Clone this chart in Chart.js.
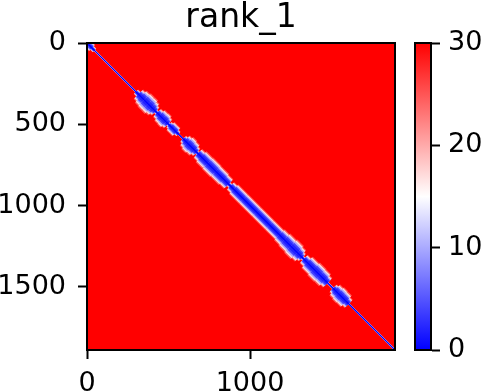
<!DOCTYPE html>
<html>
<head>
<meta charset="utf-8">
<script src="https://cdn.jsdelivr.net/npm/chart.js@4/dist/chart.umd.min.js"></script>
<style>
  html, body { margin: 0; padding: 0; background: #fff; }
  #wrap { position: relative; width: 490px; height: 392px; }
  #heat { position: absolute; left: 0; top: 0; }
  #bar { position: absolute; left: 400px; top: 0; }
</style>
</head>
<body>
<div id="wrap">
  <canvas id="heat" width="400" height="392"></canvas>
  <canvas id="bar" width="90" height="392"></canvas>
</div>
<script>
// distance matrix size (residues)
const matrixSize = 1890;
const colorMin = 0;
const colorMax = 30;
const titleText = 'rank_1';

// positions along the diagonal where the band width changes
const diagPos = [0, 15, 30, 45, 300, 315, 330, 350, 375, 395,
  410, 420, 430, 445, 465, 485, 497, 503, 512, 530,
  548, 560, 590, 600, 615, 640, 660, 672, 680, 700,
  740, 790, 840, 868, 880, 900, 960, 1040, 1120, 1180,
  1210, 1250, 1290, 1310, 1320, 1330, 1350, 1390, 1430, 1460,
  1476, 1510, 1520, 1540, 1565, 1590, 1605, 1890];
// half width (residues) of the low-distance band after each position
const bandHalfWidth = [22, 20, 12, 4, 14, 30, 38, 42, 42, 36,
  26, 10, 26, 34, 36, 28, 10, 18, 26, 26,
  14, 4, 20, 32, 38, 34, 24, 10, 28, 34,
  36, 34, 30, 12, 24, 30, 30, 30, 30, 34,
  38, 42, 36, 24, 10, 26, 36, 40, 38, 30,
  5, 24, 34, 38, 36, 26, 4];

const xTickValues = [0, 1000];
const yTickValues = [0, 500, 1000, 1500];
const colorTicks = [0, 10, 20, 30];

const FONT = 'DejaVu Sans';

// bwr colormap
function bwr(v) {
  const t = Math.max(0, Math.min(1, (v - colorMin) / (colorMax - colorMin)));
  let r, g, b;
  if (t < 0.5) { r = g = Math.round(510 * t); b = 255; }
  else { r = 255; g = b = Math.round(255 - 510 * (t - 0.5)); }
  return `rgb(${r},${g},${b})`;
}

const diagPoints = diagPos.map(p => ({ x: p, y: p }));

// band layers: [width factor, distance value shown]
const layers = [
  [1.95, 25],
  [1.65, 17],
  [1.35, 10],
  [1.0, 4],
  [0.6, 2]
];

function bandDataset(factor, value, order) {
  return {
    data: diagPoints,
    borderColor: bwr(value),
    pointRadius: 0,
    tension: 0,
    borderCapStyle: 'butt',
    order: order,
    segment: {
      borderWidth: ctx => {
        const i = ctx.p0DataIndex;
        const pxPerRes = (ctx.p1.x - ctx.p0.x) / (diagPos[i + 1] - diagPos[i]);
        return Math.max(0.5, Math.SQRT2 * bandHalfWidth[i] * pxPerRes * factor);
      }
    }
  };
}

const datasets = layers.map((l, k) => bandDataset(l[0], l[1], 10 - k));
datasets.push({
  data: diagPoints,
  borderColor: bwr(0),
  borderWidth: 1.2,
  pointRadius: 0,
  tension: 0,
  order: 0
});

const frame = {
  id: 'frame',
  beforeDatasetsDraw(chart) {
    const { ctx, scales } = chart;
    const sx = scales.x, sy = scales.y;
    const x0 = sx.getPixelForValue(-0.5), x1 = sx.getPixelForValue(matrixSize - 0.5);
    const y0 = sy.getPixelForValue(-0.5), y1 = sy.getPixelForValue(matrixSize - 0.5);
    ctx.save();
    ctx.fillStyle = bwr(colorMax);
    ctx.fillRect(x0, y0, x1 - x0, y1 - y0);
    ctx.restore();
  },
  afterDatasetsDraw(chart) {
    const { ctx, chartArea: a } = chart;
    ctx.save();
    ctx.strokeStyle = '#000';
    ctx.lineWidth = 2;
    ctx.strokeRect(a.left, a.top, a.right - a.left, a.bottom - a.top);
    ctx.fillStyle = '#000';
    ctx.font = `33px "${FONT}"`;
    ctx.textAlign = 'center';
    ctx.textBaseline = 'alphabetic';
    ctx.fillText(titleText, (a.left + a.right) / 2, a.top - 16);
    ctx.restore();
  }
};

function axisStyle(pad) {
  return {
    grid: { drawOnChartArea: false, drawTicks: true, tickLength: 9, tickWidth: 2, tickColor: '#000' },
    border: { display: true, color: '#000', width: 2 },
    ticks: {
      color: '#000', font: { family: FONT, size: 27 }, padding: pad,
      autoSkip: false, maxRotation: 0, callback: v => String(v)
    }
  };
}

new Chart(document.getElementById('heat'), {
  type: 'line',
  data: { datasets },
  plugins: [frame],
  options: {
    responsive: false,
    animation: false,
    events: [],
    layout: { padding: { left: 0, right: 5, top: 43, bottom: 0 } },
    plugins: {
      legend: { display: false },
      tooltip: { enabled: false },
      title: { display: false }
    },
    scales: {
      x: {
        type: 'linear',
        min: -0.5,
        max: matrixSize - 0.5,
        ...axisStyle(9),
        afterBuildTicks: s => { s.ticks = xTickValues.map(v => ({ value: v })); },
        afterFit: s => { s.height = 42; }
      },
      y: {
        type: 'linear',
        reverse: true,
        min: -0.5,
        max: matrixSize - 0.5,
        ...axisStyle(12),
        afterBuildTicks: s => { s.ticks = yTickValues.map(v => ({ value: v })); },
        afterFit: s => { s.width = 87; }
      }
    }
  }
});

// colorbar
const cbFrame = {
  id: 'cbFrame',
  afterDatasetsDraw(chart) {
    const { ctx, chartArea: a } = chart;
    ctx.save();
    ctx.strokeStyle = '#000';
    ctx.lineWidth = 2;
    ctx.strokeRect(a.left, a.top, a.right - a.left, a.bottom - a.top);
    ctx.restore();
  }
};

new Chart(document.getElementById('bar'), {
  type: 'bar',
  data: {
    labels: [''],
    datasets: [{
      data: [[colorMin, colorMax]],
      barPercentage: 1,
      categoryPercentage: 1,
      borderWidth: 0,
      backgroundColor: ctx => {
        const a = ctx.chart.chartArea;
        if (!a) return bwr(colorMax);
        const g = ctx.chart.ctx.createLinearGradient(0, a.bottom, 0, a.top);
        g.addColorStop(0, bwr(colorMin));
        g.addColorStop(0.5, bwr((colorMin + colorMax) / 2));
        g.addColorStop(1, bwr(colorMax));
        return g;
      }
    }]
  },
  plugins: [cbFrame],
  options: {
    responsive: false,
    animation: false,
    events: [],
    layout: { padding: { left: 15, right: 0, top: 43, bottom: 42 } },
    plugins: { legend: { display: false }, tooltip: { enabled: false } },
    scales: {
      x: { display: false },
      y: {
        position: 'right',
        min: colorMin,
        max: colorMax,
        ...axisStyle(8),
        afterBuildTicks: s => { s.ticks = colorTicks.map(v => ({ value: v })); },
        afterFit: s => { s.width = 59; }
      }
    }
  }
});
</script>
</body>
</html>
